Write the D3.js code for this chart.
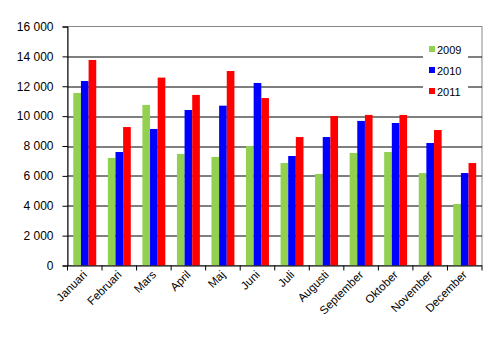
<!DOCTYPE html>
<html>
<head>
<meta charset="utf-8">
<script src="https://cdn.jsdelivr.net/npm/d3@7"></script>
<style>
  body { margin: 0; background: #fff; }
  text { font-family: "Liberation Sans", Arial, sans-serif; }
</style>
</head>
<body>
<svg width="497" height="339"></svg>
<script>
const months = ["Januari", "Februari", "Mars", "April", "Maj", "Juni", "Juli",
  "Augusti", "September", "Oktober", "November", "December"];
const years = ["2009", "2010", "2011"];
const v2009 = [11550, 7200, 10750, 7470, 7270, 8000, 6860, 6130, 7530, 7600, 6190, 4120];
const v2010 = [12350, 7600, 9140, 10410, 10700, 12220, 7330, 8600, 9680, 9540, 8200, 6190];
const v2011 = [13760, 9270, 12580, 11420, 13020, 11210, 8600, 10010, 10080, 10080, 9070, 6860];
const yTicks = [0, 2000, 4000, 6000, 8000, 10000, 12000, 14000, 16000];
const colors = ["#92D050", "#0000FF", "#FF0000"];

const svg = d3.select("svg");
const margin = {top: 26.5, right: 15, left: 67.5, bottom: 73.5};
const width = +svg.attr("width");
const height = +svg.attr("height");
const innerWidth = width - margin.left - margin.right;
const innerHeight = height - margin.top - margin.bottom;

const series = [v2009, v2010, v2011];
const data = months.map((m, i) => ({month: m, values: series.map((s, j) => ({year: years[j], value: s[i]}))}));

const xScale = d3.scaleBand().domain(months).range([0, innerWidth]).paddingInner(0).paddingOuter(0);
const xSub = d3.scaleBand().domain(years).range([5.8, xScale.bandwidth() - 5.8]);
const yScale = d3.scaleLinear().domain([0, 16000]).range([innerHeight, 0]);

const g = svg.append("g").attr("transform", `translate(${margin.left}, ${margin.top})`);

// plot border (grey)
g.append("rect")
  .attr("width", innerWidth).attr("height", innerHeight)
  .attr("fill", "none").attr("stroke", "#888").attr("stroke-width", 1);

// gridlines
g.selectAll(".grid").data(yTicks.filter(t => t > 0 && t < 16000))
  .enter().append("line")
    .attr("x1", 0).attr("x2", innerWidth)
    .attr("y1", d => Math.round(yScale(d)) + 0.5).attr("y2", d => Math.round(yScale(d)) + 0.5)
    .attr("stroke", "#000");

// bars
const groups = g.selectAll(".month").data(data)
  .enter().append("g")
    .attr("transform", d => `translate(${xScale(d.month)},0)`);

groups.selectAll("rect").data(d => d.values)
  .enter().append("rect")
    .attr("x", d => xSub(d.year))
    .attr("width", xSub.bandwidth())
    .attr("y", d => yScale(d.value))
    .attr("height", d => innerHeight - yScale(d.value))
    .attr("fill", (d, i) => colors[i]);

// y axis
const yAxis = g.append("g")
  .call(d3.axisLeft(yScale).tickValues(yTicks).tickSize(5).tickPadding(9)
    .tickFormat(d => d3.format(",")(d).replace(",", " ")));
yAxis.select(".domain").attr("stroke", "#000");
yAxis.selectAll("text").attr("font-size", 12).attr("fill", "#000")
  .style("font-family", "'Liberation Sans', Arial, sans-serif");

// x axis
const xAxis = g.append("g").attr("transform", `translate(0, ${innerHeight})`)
  .call(d3.axisBottom(xScale).tickSize(0).tickPadding(0));
xAxis.select(".domain").attr("stroke", "#000").attr("d", `M0,0.5H${innerWidth}`);
xAxis.selectAll(".tick line").remove();
xAxis.selectAll("text")
  .attr("font-size", 11.5).attr("fill", "#000")
  .attr("text-anchor", "end")
  .attr("dy", 0).attr("y", 0)
  .attr("transform", "translate(3,10) rotate(-45)")
  .style("font-family", "'Liberation Sans', Arial, sans-serif");

// category separator ticks
g.selectAll(".sep").data(d3.range(months.length + 1))
  .enter().append("line")
    .attr("x1", i => i * xScale.step()).attr("x2", i => i * xScale.step())
    .attr("y1", innerHeight).attr("y2", innerHeight + 5)
    .attr("stroke", "#000");

// legend
const legend = svg.append("g").attr("transform", "translate(423, 40)");
legend.append("rect").attr("width", 45).attr("height", 60).attr("fill", "#fff");
years.forEach((y, i) => {
  const row = legend.append("g").attr("transform", `translate(6, ${9.5 + i * 21})`);
  row.append("rect").attr("x", 0).attr("y", -3.5).attr("width", 6).attr("height", 6).attr("fill", colors[i]);
  row.append("text").attr("x", 8).attr("y", 4).attr("font-size", 11).text(y);
});
</script>
</body>
</html>
